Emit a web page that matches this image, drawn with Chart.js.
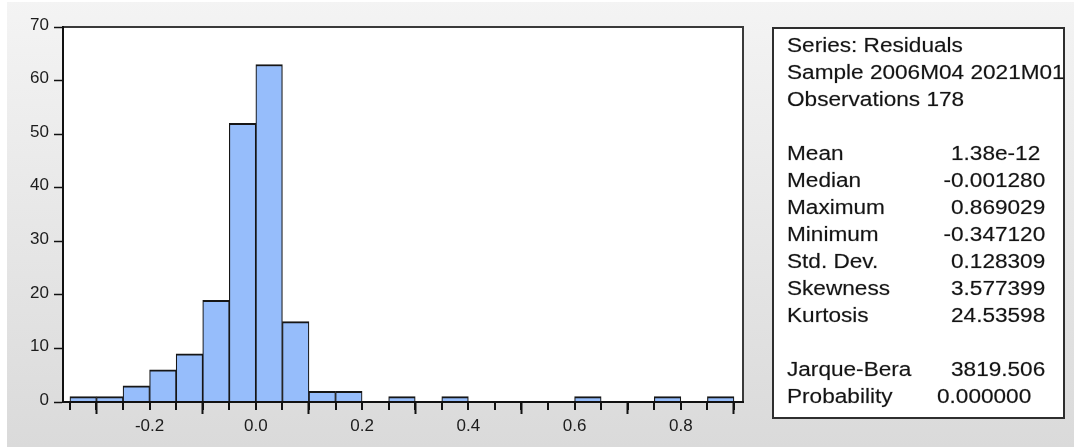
<!DOCTYPE html>
<html>
<head>
<meta charset="utf-8">
<title>Residuals histogram</title>
<script src="https://cdn.jsdelivr.net/npm/chart.js@4/dist/chart.umd.min.js"></script>
<style>
html,body{margin:0;padding:0;background:#fff;}
canvas{display:block;}
</style>
</head>
<body>
<canvas id="hist" width="1074" height="447"></canvas>
<script>
// Histogram of regression residuals, bins of width 0.05
const binStarts = [-0.35,-0.30,-0.25,-0.20,-0.15,-0.10,-0.05,0.00,0.05,0.10,0.15,0.20,0.25,0.30,0.35,0.40,0.45,0.50,0.55,0.60,0.65,0.70,0.75,0.80,0.85];
const binCounts = [1,1,3,6,9,19,52,63,15,2,2,0,1,0,1,0,0,0,0,1,0,0,1,0,1];
const binWidth = 0.05;
const xTickValues = [-0.2,0.0,0.2,0.4,0.6,0.8];
const xTickLabels = ['-0.2','0.0','0.2','0.4','0.6','0.8'];
const yTickValues = [0,10,20,30,40,50,60,70];
const yTickLabels = ['0','10','20','30','40','50','60','70'];

// Descriptive statistics panel
const headerLines = ['Series: Residuals','Sample 2006M04 2021M01','Observations 178'];
const statNames = ['Mean','Median','Maximum','Minimum','Std. Dev.','Skewness','Kurtosis'];
const statValues = ['1.38e-12','-0.001280','0.869029','-0.347120','0.128309','3.577399','24.53598'];
const testNames = ['Jarque-Bera','Probability'];
const testValues = ['3819.506','0.000000'];

const FONT = '"Liberation Sans", Arial, Helvetica, sans-serif';
const binEdges = binStarts.concat([binStarts[binStarts.length - 1] + binWidth]);

const histData = binStarts.map((s, i) => ({x: s + binWidth / 2, y: binCounts[i]}));

// Draws a string stretched horizontally (the panel uses a wide face)
function wideText(ctx, text, x, y, sx) {
  ctx.save();
  ctx.translate(x, y);
  ctx.scale(sx, 1);
  ctx.fillText(text, 0, 0);
  ctx.strokeText(text, 0, 0);
  ctx.restore();
}

const decor = {
  id: 'decor',
  beforeDraw(chart) {
    const {ctx, chartArea: a, width, height} = chart;
    ctx.save();
    ctx.fillStyle = '#ffffff';
    ctx.fillRect(0, 0, width, height);
    const g = ctx.createLinearGradient(0, 0, 0, height);
    g.addColorStop(0, '#f4f4f4');
    g.addColorStop(1, '#dadada');
    ctx.fillStyle = g;
    ctx.fillRect(7, 2, width - 7, height - 2);
    ctx.fillStyle = '#ffffff';
    ctx.fillRect(a.left, a.top, a.right - a.left, a.bottom - a.top);
    ctx.restore();
  },
  afterDatasetsDraw(chart) {
    const {ctx, chartArea: a} = chart;
    const xs = chart.scales.x;
    ctx.save();
    // top and right edges of the plot frame
    ctx.strokeStyle = '#3a3a3a';
    ctx.lineWidth = 2;
    ctx.beginPath();
    ctx.moveTo(a.left, a.top);
    ctx.lineTo(a.right, a.top);
    ctx.lineTo(a.right, a.bottom);
    ctx.stroke();
    // axes
    ctx.strokeStyle = '#111111';
    ctx.beginPath();
    ctx.moveTo(a.left, a.top - 1);
    ctx.lineTo(a.left, a.bottom);
    ctx.lineTo(a.right + 1, a.bottom);
    ctx.stroke();
    // short ticks at every bin edge
    ctx.lineWidth = 2;
    ctx.beginPath();
    binEdges.forEach(e => {
      const px = Math.round(xs.getPixelForValue(e));
      ctx.moveTo(px, a.bottom);
      ctx.lineTo(px, a.bottom + 8);
    });
    ctx.stroke();
    ctx.restore();
  },
  afterDraw(chart) {
    const {ctx, chartArea: a} = chart;
    const box = {l: a.right + 30, t: a.top + 1, r: a.right + 321, b: a.bottom + 16};
    ctx.save();
    ctx.fillStyle = '#ffffff';
    ctx.fillRect(box.l, box.t, box.r - box.l, box.b - box.t);
    ctx.strokeStyle = '#2e2e2e';
    ctx.lineWidth = 2;
    ctx.strokeRect(box.l, box.t, box.r - box.l, box.b - box.t);

    const sx = 1.13;
    const lineH = 27;
    const textX = box.l + 14;
    const valX = box.l + 178;
    const y0 = box.t + 18;
    ctx.fillStyle = '#141414';
    ctx.strokeStyle = 'rgba(20,20,20,0.35)';
    ctx.lineWidth = 0.5;
    ctx.font = '20px ' + FONT;
    ctx.textBaseline = 'middle';
    ctx.textAlign = 'left';
    const minusW = ctx.measureText('-').width * sx;

    headerLines.forEach((t, i) => wideText(ctx, t, textX, y0 + i * lineH, sx));

    const valueAt = (v, y, shift) => {
      const x = valX + shift - (v.startsWith('-') ? minusW : 0);
      wideText(ctx, v, x, y, sx);
    };
    statNames.forEach((n, i) => {
      const y = y0 + (4 + i) * lineH;
      wideText(ctx, n, textX, y, sx);
      valueAt(statValues[i], y, 0);
    });
    testNames.forEach((n, i) => {
      const y = y0 + (12 + i) * lineH;
      wideText(ctx, n, textX, y, sx);
      valueAt(testValues[i], y, i === 1 ? -14 : 0);
    });
    ctx.restore();
  }
};

new Chart(document.getElementById('hist'), {
  type: 'bar',
  data: {
    datasets: [{
      data: histData,
      backgroundColor: '#96bdfb',
      borderColor: '#161616',
      borderWidth: {top: 2, left: 1.2, right: 1.2, bottom: 0},
      borderSkipped: 'start',
      barPercentage: 1,
      categoryPercentage: 1
    }]
  },
  options: {
    responsive: false,
    animation: false,
    devicePixelRatio: 1,
    layout: {padding: {left: 8, top: 27, right: 331, bottom: 5}},
    plugins: {legend: {display: false}, tooltip: {enabled: false}},
    scales: {
      x: {
        type: 'linear',
        min: -0.363,
        max: 0.917,
        offset: false,
        afterBuildTicks(scale) { scale.ticks = xTickValues.map(v => ({value: v})); },
        afterFit(scale) { scale.height = 40; },
        grid: {display: true, drawOnChartArea: false, drawTicks: true, tickLength: 12, tickWidth: 2, tickColor: '#111111'},
        border: {display: true, color: '#111111', width: 2},
        ticks: {
          autoSkip: false,
          maxRotation: 0,
          padding: 2,
          color: '#1c1c1c',
          font: {family: FONT, size: 17},
          callback: (v, i) => xTickLabels[i]
        }
      },
      y: {
        min: 0,
        max: 70,
        afterBuildTicks(scale) { scale.ticks = yTickValues.map(v => ({value: v})); },
        afterFit(scale) { scale.width = 55; },
        grid: {display: true, drawOnChartArea: false, drawTicks: true, tickLength: 9, tickWidth: 1.5, tickColor: '#111111'},
        border: {display: true, color: '#111111', width: 2},
        ticks: {
          padding: 5,
          labelOffset: -2,
          color: '#1c1c1c',
          font: {family: FONT, size: 17},
          callback: (v, i) => yTickLabels[i]
        }
      }
    }
  },
  plugins: [decor]
});
</script>
</body>
</html>
